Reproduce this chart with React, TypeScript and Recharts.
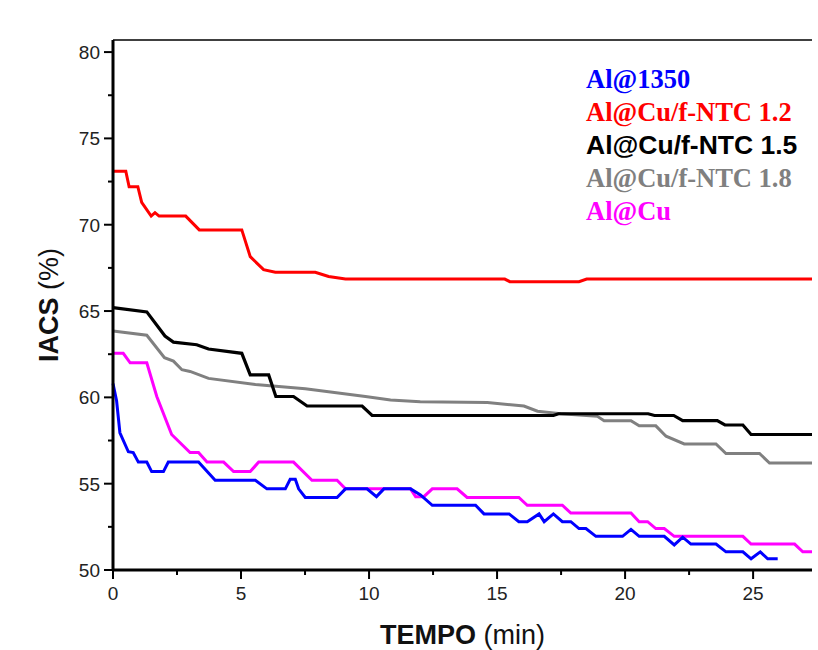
import React from 'react';
import { LineChart, Line, XAxis, YAxis, Legend, ReferenceLine } from 'recharts';

// Al@1350 (blue)
const al1350Time = [0, 0.14, 0.27, 0.6, 0.79, 0.99, 1.32, 1.51, 1.97, 2.16, 3.34, 3.99, 5.56, 6.01, 6.73, 6.92, 7.12, 7.25, 7.51, 8.75, 9.08, 9.92, 10.29, 10.58, 11.62, 12.01, 12.47, 14.16, 14.49, 15.47, 15.85, 16.18, 16.64, 16.84, 17.2, 17.55, 17.88, 18.2, 18.47, 18.86, 19.9, 20.23, 20.55, 21.53, 21.92, 22.25, 22.57, 23.55, 23.94, 24.6, 24.92, 25.28, 25.57, 25.96];
const al1350Iacs = [60.8, 59.8, 57.95, 56.85, 56.8, 56.25, 56.25, 55.7, 55.7, 56.25, 56.25, 55.2, 55.2, 54.7, 54.7, 55.25, 55.25, 54.7, 54.2, 54.2, 54.7, 54.7, 54.25, 54.7, 54.7, 54.35, 53.75, 53.75, 53.25, 53.25, 52.8, 52.8, 53.25, 52.8, 53.25, 52.8, 52.8, 52.4, 52.4, 51.95, 51.95, 52.35, 51.95, 51.95, 51.45, 51.9, 51.5, 51.5, 51.05, 51.05, 50.65, 51.05, 50.65, 50.65];

// Al@Cu/f-NTC 1.2 (red)
const ntc12Time = [0, 0.5, 0.63, 0.97, 1.12, 1.49, 1.64, 1.8, 2.84, 3.37, 5.03, 5.36, 5.88, 6.34, 7.9, 8.42, 9.08, 15.3, 15.5, 18.2, 18.5, 27.3];
const ntc12Iacs = [73.1, 73.1, 72.2, 72.2, 71.3, 70.5, 70.7, 70.5, 70.5, 69.7, 69.7, 68.15, 67.4, 67.25, 67.25, 67.0, 66.85, 66.85, 66.7, 66.7, 66.85, 66.85];

// Al@Cu/f-NTC 1.5 (black)
const ntc15Time = [0, 1.32, 2.03, 2.36, 3.27, 3.73, 5.03, 5.36, 6.08, 6.36, 7.05, 7.58, 9.73, 10.12, 17.2, 17.4, 20.9, 21.15, 21.9, 22.25, 23.6, 23.9, 24.6, 24.92, 27.3];
const ntc15Iacs = [65.2, 64.95, 63.55, 63.2, 63.05, 62.8, 62.55, 61.3, 61.3, 60.05, 60.05, 59.5, 59.5, 58.95, 58.95, 59.05, 59.05, 58.95, 58.95, 58.65, 58.65, 58.4, 58.4, 57.85, 57.85];

// Al@Cu/f-NTC 1.8 (gray)
const ntc18Time = [0, 1.32, 2.01, 2.36, 2.69, 3.01, 3.73, 5.56, 7.51, 9.86, 10.84, 12.0, 14.62, 16.05, 16.58, 17.49, 18.92, 19.18, 20.23, 20.55, 21.2, 21.6, 22.31, 23.55, 23.94, 25.25, 25.64, 27.3];
const ntc18Iacs = [63.85, 63.6, 62.3, 62.1, 61.6, 61.5, 61.1, 60.75, 60.5, 60.05, 59.85, 59.75, 59.7, 59.5, 59.2, 59.05, 58.9, 58.65, 58.65, 58.35, 58.35, 57.75, 57.3, 57.3, 56.75, 56.75, 56.2, 56.2];

// Al@Cu (magenta)
const alCuTime = [0, 0.4, 0.67, 1.32, 1.71, 2.29, 3.01, 3.34, 3.67, 4.32, 4.71, 5.36, 5.69, 7.05, 7.77, 8.75, 9.08, 11.62, 11.82, 12.14, 12.47, 13.44, 13.83, 15.85, 16.18, 17.55, 17.88, 20.23, 20.55, 20.88, 21.2, 21.53, 21.92, 24.6, 24.92, 26.62, 26.94, 27.3];
const alCuIacs = [62.55, 62.55, 62.0, 62.0, 60.05, 57.85, 56.8, 56.8, 56.25, 56.25, 55.7, 55.7, 56.25, 56.25, 55.2, 55.2, 54.7, 54.7, 54.25, 54.25, 54.7, 54.7, 54.2, 54.2, 53.75, 53.75, 53.3, 53.3, 52.8, 52.8, 52.4, 52.4, 51.95, 51.95, 51.5, 51.5, 51.05, 51.05];

const xTicks = [0, 2.5, 5, 7.5, 10, 12.5, 15, 17.5, 20, 22.5, 25];
const yTicks = [50, 52.5, 55, 57.5, 60, 62.5, 65, 67.5, 70, 72.5, 75, 77.5, 80];

const toPoints = (t: number[], v: number[]) => t.map((x, i) => ({ t: x, v: v[i] }));

const series = [
  { name: 'Al@1350', color: '#0000ff', font: '"Liberation Serif", serif', data: toPoints(al1350Time, al1350Iacs) },
  { name: 'Al@Cu/f-NTC 1.2', color: '#ff0000', font: '"Liberation Serif", serif', data: toPoints(ntc12Time, ntc12Iacs) },
  { name: 'Al@Cu/f-NTC 1.5', color: '#000000', font: '"Liberation Sans", Arial, sans-serif', data: toPoints(ntc15Time, ntc15Iacs) },
  { name: 'Al@Cu/f-NTC 1.8', color: '#808080', font: '"Liberation Serif", serif', data: toPoints(ntc18Time, ntc18Iacs) },
  { name: 'Al@Cu', color: '#ff00ff', font: '"Liberation Serif", serif', data: toPoints(alCuTime, alCuIacs) },
];

// draw order: pink under blue, gray under black
const drawOrder = [1, 3, 2, 4, 0];

const SANS = '"Liberation Sans", Arial, sans-serif';

const XTick = (props: any) => {
  const { x, y, payload } = props;
  const major = payload.value % 5 === 0;
  return (
    <g>
      <line x1={x} x2={x} y1={y} y2={y + (major ? 9 : 5)} stroke="#000" strokeWidth={2} />
      {major && (
        <text x={x} y={y + 30} textAnchor="middle" fontFamily={SANS} fontSize={19} fill="#222">
          {payload.value}
        </text>
      )}
    </g>
  );
};

const YTick = (props: any) => {
  const { x, y, payload } = props;
  const major = payload.value % 5 === 0;
  return (
    <g>
      <line x1={x} x2={x - (major ? 9 : 5)} y1={y} y2={y} stroke="#000" strokeWidth={2} />
      {major && (
        <text x={x - 13} y={y + 7} textAnchor="end" fontFamily={SANS} fontSize={19} fill="#222">
          {payload.value}
        </text>
      )}
    </g>
  );
};

const renderLegend = () => (
  <div style={{ lineHeight: '33px' }}>
    {series.map((s) => (
      <div key={s.name} style={{ color: s.color, fontFamily: s.font, fontWeight: 'bold', fontSize: 26.5, whiteSpace: 'nowrap' }}>
        {s.name}
      </div>
    ))}
  </div>
);

export default function App() {
  return (
    <div style={{ position: 'absolute', left: 0, top: 0, background: '#fff' }}>
      <LineChart width={818} height={650} margin={{ top: 40, right: 6, bottom: 0, left: 0 }}>
        <XAxis
          type="number"
          dataKey="t"
          domain={[0, 27.3]}
          ticks={xTicks}
          allowDuplicatedCategory={false}
          height={80}
          tickSize={0}
          tickMargin={0}
          tick={<XTick />}
          axisLine={{ stroke: '#000', strokeWidth: 3 }}
          label={{
            content: (p: any) => {
              const vb = p.viewBox;
              return (
                <text x={vb.x + vb.width / 2} y={vb.y + 74} textAnchor="middle" fontFamily={SANS} fontSize={27} fill="#111">
                  <tspan fontWeight="bold">TEMPO</tspan>
                  <tspan> (min)</tspan>
                </text>
              );
            },
          }}
        />
        <YAxis
          type="number"
          domain={[50, 80.7]}
          ticks={yTicks}
          width={113}
          tickSize={0}
          tickMargin={0}
          tick={<YTick />}
          axisLine={{ stroke: '#000', strokeWidth: 3 }}
          label={{
            content: (p: any) => {
              const vb = p.viewBox;
              const cx = vb.x + 49;
              const cy = vb.y + vb.height / 2;
              return (
                <text x={cx} y={cy} textAnchor="middle" dominantBaseline="central" transform={`rotate(-90 ${cx} ${cy})`} fontFamily={SANS} fontSize={27} fill="#111">
                  <tspan fontWeight="bold">IACS</tspan>
                  <tspan> (%)</tspan>
                </text>
              );
            },
          }}
        />
        <ReferenceLine y={80.7} stroke="#000" strokeWidth={1.5} />
        {drawOrder.map((i) => {
          const s = series[i];
          return (
            <Line
              key={s.name}
              data={s.data}
              dataKey="v"
              name={s.name}
              type="linear"
              stroke={s.color}
              strokeWidth={s.color === '#000000' ? 3.2 : 3}
              dot={false}
              activeDot={false}
              isAnimationActive={false}
            />
          );
        })}
        <Legend
          layout="vertical"
          align="center"
          verticalAlign="middle"
          content={renderLegend}
          wrapperStyle={{ position: 'absolute', left: 586, top: 63, width: 'auto' }}
        />
      </LineChart>
    </div>
  );
}
